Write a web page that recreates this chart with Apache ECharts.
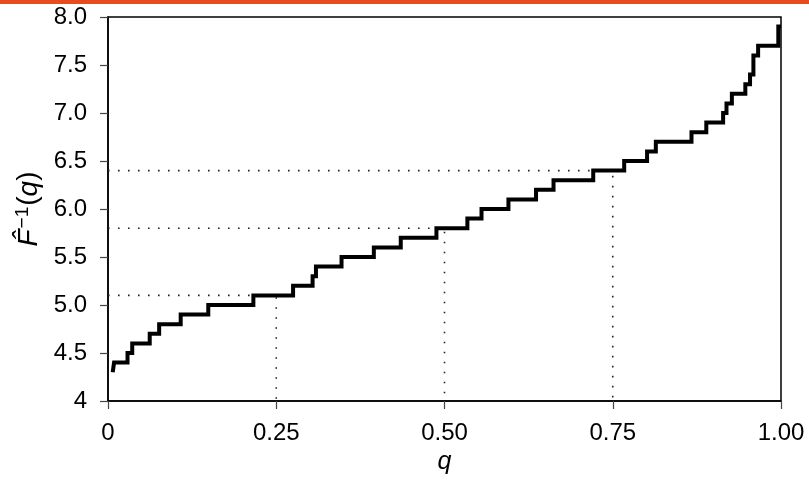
<!DOCTYPE html>
<html>
<head>
<meta charset="utf-8">
<script src="https://cdn.jsdelivr.net/npm/echarts@6/dist/echarts.min.js"></script>
<style>
html,body{margin:0;padding:0;background:#fff;}
#chart{width:809px;height:482px;}
</style>
</head>
<body>
<div id="chart"></div>
<script>
// Empirical quantile function: level values and the q at which each level starts
var levels = [4.3, 4.4, 4.5, 4.6, 4.7, 4.8, 4.9, 5.0, 5.1, 5.2, 5.3, 5.4, 5.5, 5.6, 5.7, 5.8, 5.9, 6.0, 6.1, 6.2, 6.3, 6.4, 6.5, 6.6, 6.7, 6.8, 6.9, 7.0, 7.1, 7.2, 7.3, 7.4, 7.6, 7.7, 7.9];
var qStarts = [0.007, 0.009, 0.029, 0.036, 0.062, 0.076, 0.108, 0.149, 0.216, 0.275, 0.304, 0.309, 0.347, 0.395, 0.435, 0.488, 0.534, 0.555, 0.595, 0.636, 0.662, 0.721, 0.767, 0.801, 0.814, 0.867, 0.889, 0.914, 0.919, 0.927, 0.947, 0.954, 0.959, 0.966, 0.996];
var qEnd = 1.0;

// Reference quantiles (dotted guides)
var guideQ = [0.25, 0.50, 0.75];
var guideV = [5.1, 5.8, 6.4];

var xTickLabels = ['0', '0.25', '0.50', '0.75', '1.00'];
var yTickLabels = ['4', '4.5', '5.0', '5.5', '6.0', '6.5', '7.0', '7.5', '8.0'];

var stepData = qStarts.map(function (q, i) { return [q, levels[i]]; });
stepData.push([qEnd, levels[levels.length - 1]]);

var FONT = 'Liberation Sans';
var series = [];
guideQ.forEach(function (q, i) {
  series.push({
    type: 'line',
    data: [[0, guideV[i]], [q, guideV[i]], [q, 4]],
    symbol: 'none',
    silent: true,
    z: 1,
    lineStyle: { color: '#222', width: 1.6, type: [1.6, 8.4] }
  });
});
series.push({
  type: 'line',
  data: stepData,
  step: 'end',
  symbol: 'none',
  z: 3,
  lineStyle: { color: '#000', width: 4, join: 'miter' }
});

var chart = echarts.init(document.getElementById('chart'), null, { renderer: 'canvas' });
chart.setOption({
  animation: false,
  backgroundColor: '#fff',
  grid: { left: 108, right: 28, top: 17, bottom: 81, show: true, borderColor: '#000', borderWidth: 1.5, backgroundColor: 'transparent' },
  graphic: [{
    type: 'rect', left: 0, top: 0, shape: { width: 809, height: 4 },
    style: { fill: '#e84c1c' }
  }],
  xAxis: {
    type: 'value', min: 0, max: 1, interval: 0.25,
    name: 'q', nameLocation: 'middle', nameGap: 46,
    nameTextStyle: { fontFamily: FONT, fontSize: 25, fontStyle: 'italic', color: '#000' },
    axisLine: { show: true, lineStyle: { color: '#000', width: 1.5 } },
    axisTick: { show: true, length: 8, lineStyle: { color: '#444', width: 1.2 } },
    splitLine: { show: false },
    axisLabel: {
      margin: 20, fontFamily: FONT, fontSize: 24, color: '#000',
      formatter: function (v) { return xTickLabels[Math.round(v / 0.25)]; }
    }
  },
  yAxis: {
    type: 'value', min: 4, max: 8, interval: 0.5,
    name: '{it|F\u0302}{sup|\u22121}({it|q})', nameLocation: 'middle', nameGap: 63, nameRotate: 90,
    nameTextStyle: {
      fontFamily: FONT, fontSize: 28, color: '#000',
      rich: {
        it: { fontFamily: FONT, fontSize: 28, fontStyle: 'italic', color: '#000' },
        sup: { fontFamily: FONT, fontSize: 19, color: '#000', verticalAlign: 'top', padding: [0, 1, 12, 1] }
      }
    },
    axisLine: { show: true, lineStyle: { color: '#000', width: 1.5 } },
    axisTick: { show: true, length: 8, lineStyle: { color: '#444', width: 1.2 } },
    splitLine: { show: false },
    axisLabel: {
      margin: 21, fontFamily: FONT, fontSize: 24, color: '#000',
      formatter: function (v) { return yTickLabels[Math.round((v - 4) / 0.5)]; }
    }
  },
  series: series
});
</script>
</body>
</html>
